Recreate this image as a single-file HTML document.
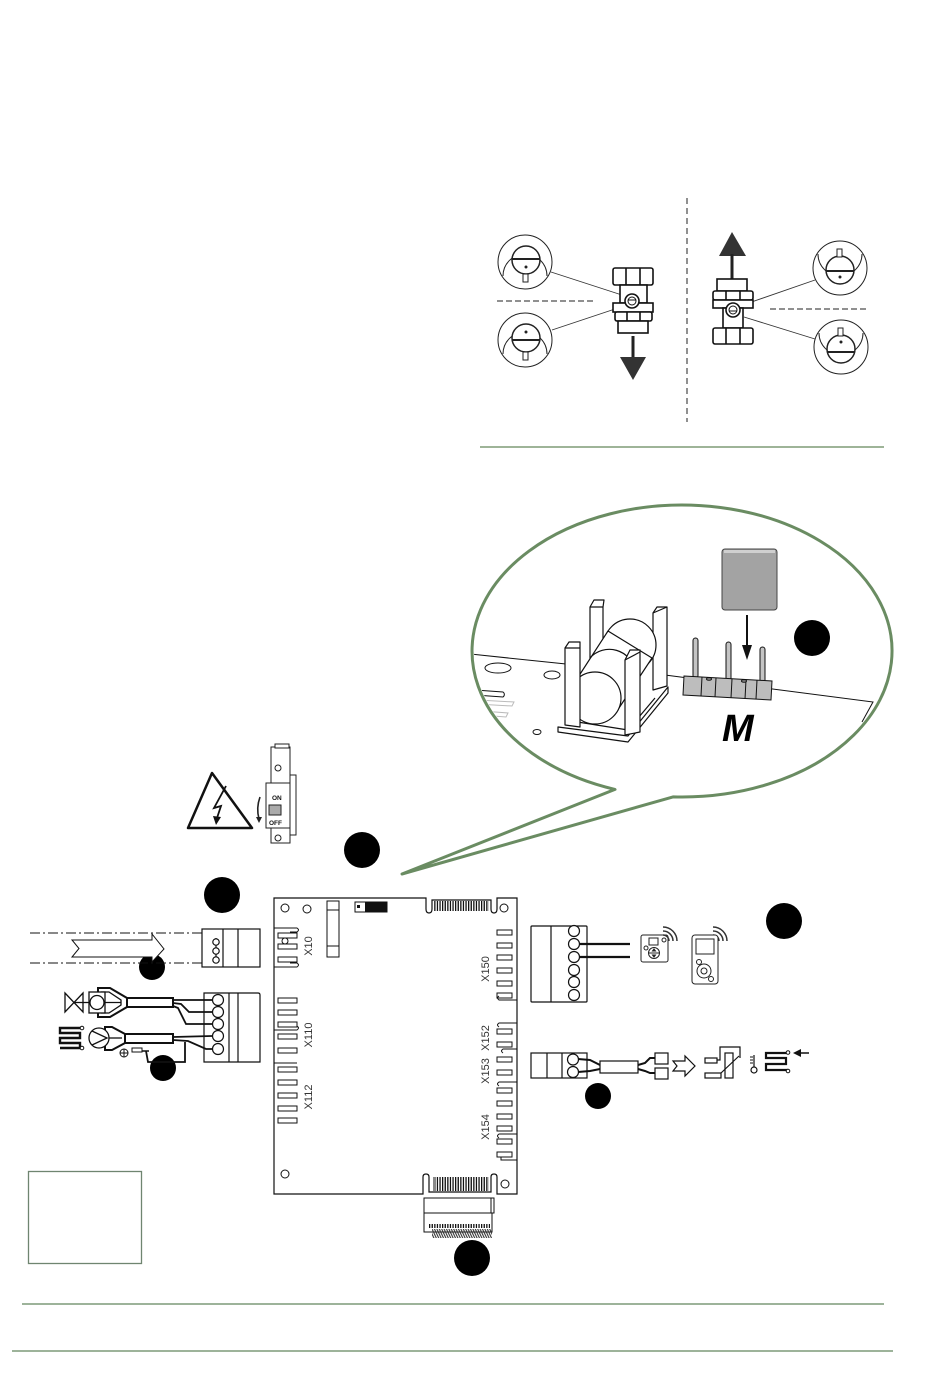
<!DOCTYPE html>
<html><head><meta charset="utf-8">
<style>
html,body{margin:0;padding:0;background:#fff;}
svg{display:block;}
text{font-family:"Liberation Sans",sans-serif;}
</style></head>
<body>
<svg width="950" height="1379" viewBox="0 0 950 1379" xmlns="http://www.w3.org/2000/svg">
<defs>
  <pattern id="hatch" width="2.6" height="20" patternUnits="userSpaceOnUse"><rect width="1.3" height="20" fill="#111"/></pattern>
  <pattern id="hatch2" width="2.4" height="20" patternUnits="userSpaceOnUse" patternTransform="skewX(25)"><rect width="1.2" height="20" fill="#333"/></pattern>
  <clipPath id="bub"><ellipse cx="682" cy="651" rx="208" ry="144"/></clipPath>
</defs>

<!-- ============ VALVE SECTION ============ -->
<line x1="687" y1="198" x2="687" y2="422" stroke="#222" stroke-width="1" stroke-dasharray="6 4"/>
<line x1="480" y1="447" x2="884" y2="447" stroke="#7f9c77" stroke-width="1.5"/>
<line x1="497" y1="301" x2="596" y2="301" stroke="#222" stroke-width="1" stroke-dasharray="6 3"/>
<line x1="770" y1="309" x2="868" y2="309" stroke="#222" stroke-width="1" stroke-dasharray="6 3"/>

<g fill="#fff" stroke="#222" stroke-width="1">
  <circle cx="525" cy="262" r="27"/>
  <path d="M503,276 A22,22 0 1 1 547,276" fill="none"/>
  <circle cx="526" cy="260" r="14" stroke-width="1.5"/>
  <line x1="512" y1="259" x2="540" y2="259" stroke-width="2"/>
  <rect x="523" y="274" width="5" height="8"/>
  <circle cx="526" cy="267" r="1" fill="#222"/>
  <circle cx="525" cy="340" r="27"/>
  <path d="M503,354 A22,22 0 1 1 547,354" fill="none"/>
  <circle cx="526" cy="338" r="14" stroke-width="1.5"/>
  <line x1="512" y1="340" x2="540" y2="340" stroke-width="2"/>
  <rect x="523" y="352" width="5" height="8"/>
  <circle cx="526" cy="332" r="1" fill="#222"/>
  <circle cx="840" cy="268" r="27"/>
  <path d="M818,254 A22,22 0 1 0 862,254" fill="none"/>
  <circle cx="840" cy="270" r="14" stroke-width="1.5"/>
  <line x1="826" y1="271" x2="854" y2="271" stroke-width="2"/>
  <rect x="837" y="249" width="5" height="8"/>
  <circle cx="840" cy="277" r="1" fill="#222"/>
  <circle cx="841" cy="347" r="27"/>
  <path d="M819,333 A22,22 0 1 0 863,333" fill="none"/>
  <circle cx="841" cy="349" r="14" stroke-width="1.5"/>
  <line x1="827" y1="352" x2="855" y2="352" stroke-width="2"/>
  <rect x="838" y="328" width="5" height="8"/>
  <circle cx="841" cy="342" r="1" fill="#222"/>
</g>
<g stroke="#333" stroke-width="0.9">
  <line x1="551" y1="272" x2="625" y2="296"/>
  <line x1="552" y1="330" x2="627" y2="305"/>
  <line x1="815" y1="280" x2="740" y2="306"/>
  <line x1="815" y1="339" x2="744" y2="317"/>
</g>

<g fill="#fff" stroke="#111" stroke-width="1.6">
  <rect x="613" y="268" width="40" height="17" rx="2"/>
  <line x1="626" y1="268" x2="626" y2="285"/><line x1="640" y1="268" x2="640" y2="285"/>
  <rect x="620" y="285" width="27" height="18"/>
  <rect x="613" y="303" width="40" height="9"/>
  <rect x="615" y="312" width="37" height="9" rx="2"/>
  <line x1="627" y1="312" x2="627" y2="321"/><line x1="640" y1="312" x2="640" y2="321"/>
  <rect x="618" y="321" width="30" height="12"/>
  <circle cx="632" cy="301" r="7"/>
  <circle cx="632" cy="301" r="4" stroke-width="1"/>
  <line x1="628" y1="300" x2="636" y2="300" stroke-width="1"/>
</g>
<line x1="633" y1="336" x2="633" y2="359" stroke="#222" stroke-width="3"/>
<polygon points="620,357 646,357 633,380" fill="#333"/>

<polygon points="719,256 746,256 732,232" fill="#333"/>
<line x1="732" y1="254" x2="732" y2="279" stroke="#222" stroke-width="3"/>
<g fill="#fff" stroke="#111" stroke-width="1.6">
  <rect x="717" y="279" width="30" height="12"/>
  <rect x="713" y="291" width="40" height="9" rx="2"/>
  <line x1="726" y1="291" x2="726" y2="300"/><line x1="740" y1="291" x2="740" y2="300"/>
  <rect x="713" y="300" width="40" height="8"/>
  <rect x="723" y="308" width="20" height="20"/>
  <rect x="713" y="328" width="40" height="16" rx="2"/>
  <line x1="726" y1="328" x2="726" y2="344"/><line x1="740" y1="328" x2="740" y2="344"/>
  <circle cx="733" cy="310" r="7"/>
  <circle cx="733" cy="310" r="4" stroke-width="1"/>
  <line x1="729" y1="311" x2="737" y2="311" stroke-width="1"/>
</g>

<!-- ============ BUBBLE ============ -->
<g clip-path="url(#bub)">
  <g stroke="#111" stroke-width="1" fill="none">
    <path d="M470,654 L566,664"/>
    <path d="M665,675 L873,702 L862,722"/>
    <ellipse cx="498" cy="668" rx="13" ry="5"/>
    <ellipse cx="552" cy="675" rx="8" ry="4"/>
    <path d="M475,690 L503,692 A3,3 0 0 1 503,697 L475,695"/>
    <ellipse cx="537" cy="732" rx="4" ry="2.5"/>
  </g>
  <g stroke="#bbb" stroke-width="1" fill="none">
    <path d="M478,700 L514,702 L512,706 L476,704"/>
    <path d="M482,711 L508,713 L506,717 L480,715"/>
  </g>
  <g fill="#fff" stroke="#111" stroke-width="1.2" stroke-linejoin="round">
    <path d="M590,607 L594,600 L604,600 L603,607 L603,665 L590,665 Z"/>
    <line x1="590" y1="607" x2="603" y2="607"/>
    <path d="M653,613 L657,607 L667,607 L667,686 L653,690 Z"/>
    <line x1="653" y1="613" x2="667" y2="607"/>
    <path d="M558,727 L558,732 L628,742 L668,693 L668,687 L628,736 Z"/>
    <path d="M565,720 L628,730 L655,698"/>
    <circle cx="630" cy="645" r="26"/>
    <polygon points="617,711 652,658 608,631 573,685"/>
    <path d="M590,658 A26,26 0 0 1 635,671" fill="none"/>
    <circle cx="595" cy="698" r="26"/>
    <path d="M565,648 L569,642 L580,642 L580,727 L565,725 Z"/>
    <line x1="565" y1="648" x2="580" y2="648"/>
    <path d="M625,660 L630,650 L640,650 L640,732 L625,735 Z"/>
    <line x1="625" y1="660" x2="640" y2="652"/>
  </g>
  <g stroke="#111" stroke-width="1">
    <rect x="693" y="638" width="5" height="40" rx="2.5" fill="#c4c4c4"/>
    <rect x="726" y="642" width="5" height="40" rx="2.5" fill="#c4c4c4"/>
    <rect x="760" y="647" width="5" height="40" rx="2.5" fill="#c4c4c4"/>
    <path d="M684,676 L772,681 L771,700 L683,695 Z" fill="#bdbdbd"/>
    <line x1="702" y1="677" x2="701" y2="696"/>
    <line x1="716" y1="678" x2="715" y2="697"/>
    <line x1="732" y1="679" x2="731" y2="698"/>
    <line x1="746" y1="680" x2="745" y2="699"/>
    <line x1="757" y1="680" x2="756" y2="699"/>
    <ellipse cx="709" cy="679" rx="2.5" ry="1.2" fill="#999"/>
    <ellipse cx="744" cy="681" rx="2.5" ry="1.2" fill="#999"/>
  </g>
  <rect x="722" y="549" width="55" height="61" rx="3" fill="#a3a3a3" stroke="#444" stroke-width="1"/>
  <rect x="724" y="550" width="51" height="3" fill="#cfcfcf"/>
  <line x1="747" y1="615" x2="747" y2="648" stroke="#111" stroke-width="2"/>
  <polygon points="742,645 752,645 747,660" fill="#111"/>
  <circle cx="812" cy="638" r="18" fill="#000"/>
  <text x="722" y="741" font-size="38" font-weight="bold" font-style="italic" fill="#000">M</text>
</g>
<path d="M615,789.4 A210,146 0 1 1 673,796.9 L402,874 Z" fill="none" stroke="#6a8c62" stroke-width="3" stroke-linejoin="round"/>

<!-- ============ WARNING + BREAKER ============ -->
<path d="M212,773 L252,828 L188,828 Z" fill="#fff" stroke="#111" stroke-width="2.5" stroke-linejoin="round"/>
<path d="M226,786 L214,808 L221,806 L217,818" fill="none" stroke="#111" stroke-width="1.8"/>
<polygon points="213,816 221,817 216,825" fill="#111"/>
<g fill="#fff" stroke="#222" stroke-width="1">
  <rect x="289" y="775" width="7" height="60"/>
  <rect x="271" y="747" width="19" height="36"/>
  <rect x="275" y="744" width="14" height="4"/>
  <circle cx="278" cy="768" r="3"/>
  <rect x="266" y="783" width="24" height="45"/>
  <rect x="271" y="828" width="19" height="15"/>
  <circle cx="278" cy="838" r="3"/>
  <rect x="269" y="805" width="12" height="10" fill="#aaa"/>
</g>
<text x="272" y="800" font-size="6.5" font-weight="bold" fill="#111">ON</text>
<text x="269" y="825" font-size="6.5" font-weight="bold" fill="#111">OFF</text>
<path d="M260,797 Q256,808 259,819" fill="none" stroke="#222" stroke-width="1.6"/>
<polygon points="256,817 262,817 259,823" fill="#222"/>

<!-- ============ BLACK MARKERS ============ -->
<g fill="#000">
  <circle cx="362" cy="850" r="18"/>
  <circle cx="222" cy="895" r="18"/>
  <circle cx="784" cy="921" r="18"/>
  <circle cx="152" cy="967" r="13"/>
  <circle cx="163" cy="1068" r="13"/>
  <circle cx="598" cy="1096" r="13"/>
  <circle cx="472" cy="1258" r="18"/>
</g>

<!-- ============ BOARD ============ -->
<g fill="none" stroke="#111" stroke-width="1.2">
  <path d="M426,898 L274,898 L274,1194 L423,1194 L423,1177 Q423,1174 426,1174 Q429,1174 429,1177 L429,1192 L491,1192 L491,1177 Q491,1174 494,1174 Q497,1174 497,1177 L497,1194 L517,1194 L517,898 L497,898 L497,909 Q497,913 494,913 Q491,913 491,909 L491,900 L432,900 L432,909 Q432,913 429,913 Q426,913 426,909 Z"/>
</g>
<rect x="434" y="901" width="55" height="10" fill="url(#hatch)"/>
<rect x="433" y="1177" width="56" height="14" fill="url(#hatch)"/>
<rect x="433" y="1177" width="2" height="14" fill="#888"/>
<g fill="#fff" stroke="#111" stroke-width="1">
  <circle cx="285" cy="908" r="4"/><circle cx="307" cy="909" r="4"/><circle cx="504" cy="908" r="4"/>
  <circle cx="285" cy="1174" r="4"/><circle cx="505" cy="1184" r="4"/>
  <rect x="327" y="901" width="12" height="56"/>
  <line x1="327" y1="910" x2="339" y2="910"/>
  <line x1="327" y1="946" x2="339" y2="946"/>
  <rect x="355" y="902" width="32" height="10"/>
</g>
<rect x="365" y="902" width="22" height="10" fill="#111"/>
<rect x="357" y="905" width="3" height="3" fill="#111"/>
<g fill="#fff" stroke="#111" stroke-width="1">
  <rect x="278" y="933" width="19" height="5"/>
  <rect x="278" y="944" width="19" height="5"/>
  <rect x="278" y="957" width="19" height="5"/>
  <circle cx="285" cy="941" r="3"/>
  <rect x="278" y="998" width="19" height="5"/>
  <rect x="278" y="1010" width="19" height="5"/>
  <rect x="278" y="1022" width="19" height="5"/>
  <rect x="278" y="1034" width="19" height="5"/>
  <rect x="278" y="1048" width="19" height="5"/>
  <rect x="278" y="1067" width="19" height="5"/>
  <rect x="278" y="1080" width="19" height="5"/>
  <rect x="278" y="1093" width="19" height="5"/>
  <rect x="278" y="1106" width="19" height="5"/>
  <rect x="278" y="1118" width="19" height="5"/>
  <rect x="497" y="930" width="15" height="5"/>
  <rect x="497" y="943" width="15" height="5"/>
  <rect x="497" y="955" width="15" height="5"/>
  <rect x="497" y="968" width="15" height="5"/>
  <rect x="497" y="981" width="15" height="5"/>
  <rect x="497" y="993" width="15" height="5"/>
  <rect x="497" y="1029" width="15" height="5"/>
  <rect x="497" y="1042" width="15" height="5"/>
  <rect x="497" y="1057" width="15" height="5"/>
  <rect x="497" y="1070" width="15" height="5"/>
  <rect x="497" y="1088" width="15" height="5"/>
  <rect x="497" y="1101" width="15" height="5"/>
  <rect x="497" y="1114" width="15" height="5"/>
  <rect x="497" y="1126" width="15" height="5"/>
  <rect x="497" y="1139" width="15" height="5"/>
  <rect x="497" y="1152" width="15" height="5"/>
</g>
<g fill="none" stroke="#111" stroke-width="1">
  <path d="M274,928 L297,928 Q300,930 297,932 L290,932"/>
  <path d="M274,967 L297,967 Q300,965 297,963 L290,963"/>
  <path d="M274,1030 L297,1030 Q300,1028 297,1026"/>
  <path d="M274,1063 L297,1063"/>
  <path d="M517,1000 L499,1000 Q496,998 499,996"/>
  <path d="M517,1023 L499,1023 Q496,1025 499,1027"/>
  <path d="M517,1049 L503,1049 Q500,1051 503,1053"/>
  <path d="M517,1082 L499,1082 Q496,1084 499,1086"/>
  <path d="M517,1134 L499,1134 Q496,1136 499,1138"/>
  <path d="M517,1160 L501,1160 L501,1157"/>
</g>
<g font-size="11" fill="#333" text-anchor="middle">
  <text transform="translate(312,946) rotate(-90)">X10</text>
  <text transform="translate(312,1035) rotate(-90)">X110</text>
  <text transform="translate(312,1097) rotate(-90)">X112</text>
  <text transform="translate(489,969) rotate(-90)">X150</text>
  <text transform="translate(489,1038) rotate(-90)">X152</text>
  <text transform="translate(489,1071) rotate(-90)">X153</text>
  <text transform="translate(489,1127) rotate(-90)">X154</text>
</g>
<g fill="#fff" stroke="#111" stroke-width="1">
  <rect x="424" y="1198" width="70" height="15"/>
  <line x1="491" y1="1198" x2="491" y2="1213"/>
  <rect x="424" y="1213" width="68" height="19"/>
</g>
<rect x="428" y="1224" width="62" height="4" fill="url(#hatch)"/>
<rect x="432" y="1229" width="60" height="9" fill="url(#hatch2)"/>

<!-- ============ LEFT CONNECTORS ============ -->
<g stroke="#111" stroke-width="1" stroke-dasharray="10 3 2 3">
  <line x1="30" y1="933" x2="202" y2="933"/>
  <line x1="30" y1="963" x2="202" y2="963"/>
</g>
<path d="M72,940 L152,940 L152,934 L164,949 L152,962 L152,957 L72,957 L79,948.5 Z" fill="#fff" stroke="#111" stroke-width="1"/>
<g fill="#fff" stroke="#111" stroke-width="1.2">
  <rect x="202" y="929" width="58" height="38"/>
  <line x1="223" y1="929" x2="223" y2="967"/>
  <line x1="238" y1="929" x2="238" y2="967"/>
  <line x1="216" y1="938" x2="216" y2="963"/>
  <circle cx="216" cy="942" r="3.2"/>
  <circle cx="216" cy="951" r="3.2"/>
  <circle cx="216" cy="960" r="3.2"/>
</g>
<g fill="#fff" stroke="#111" stroke-width="1.2">
  <path d="M204,993 L258,993 Q260,993 260,995 L260,1062 L204,1062 Z"/>
  <line x1="229" y1="993" x2="229" y2="1062"/>
  <line x1="238" y1="993" x2="238" y2="1062"/>
  <circle cx="218" cy="1000" r="5.5"/>
  <circle cx="218" cy="1012" r="5.5"/>
  <circle cx="218" cy="1024" r="5.5"/>
  <circle cx="218" cy="1036" r="5.5"/>
  <circle cx="218" cy="1049" r="5.5"/>
</g>
<g fill="#fff" stroke="#111" stroke-width="1.3">
  <polygon points="65,993 74,1002.5 65,1012"/>
  <polygon points="83,993 74,1002.5 83,1012"/>
  <line x1="74" y1="1002.5" x2="89" y2="1002.5"/>
  <path d="M98,988 L110,988 L127,998 L127,1007 L110,1017 L98,1017 Z" stroke-width="2"/>
  <path d="M101,992 L109,992 L121,1000 L121,1005 L109,1013 L101,1013" fill="none"/>
  <rect x="89" y="992" width="16" height="21"/>
  <circle cx="97" cy="1002.5" r="7"/>
  <line x1="104" y1="1002.5" x2="121" y2="1002.5"/>
  <rect x="127" y="998" width="46" height="9" stroke-width="2"/>
</g>
<g fill="#fff" stroke="#111" stroke-width="1.3">
  <path d="M105,1027 L112,1027 L125,1034 L125,1043 L112,1050 L105,1050 Z" stroke-width="2"/>
  <circle cx="99" cy="1038" r="10"/>
  <polyline points="92,1031 107,1038 92,1045" fill="none"/>
  <line x1="109" y1="1038" x2="122" y2="1038"/>
  <rect x="125" y="1034" width="48" height="9" stroke-width="2"/>
</g>
<path d="M82,1028 L60,1028 L60,1033 L80,1033 L80,1038 L60,1038 L60,1043 L80,1043 L80,1048 L60,1048" fill="none" stroke="#111" stroke-width="2.4"/>
<circle cx="82" cy="1028" r="1.8" fill="#fff" stroke="#111" stroke-width="1"/>
<circle cx="82" cy="1048" r="1.8" fill="#fff" stroke="#111" stroke-width="1"/>
<circle cx="124" cy="1053" r="4" fill="#fff" stroke="#111" stroke-width="1"/>
<line x1="120" y1="1053" x2="128" y2="1053" stroke="#111" stroke-width="1"/>
<line x1="124" y1="1049" x2="124" y2="1057" stroke="#111" stroke-width="1"/>
<rect x="132" y="1048" width="10" height="4" fill="#fff" stroke="#111" stroke-width="1"/>
<line x1="142" y1="1051" x2="149" y2="1051" stroke="#111" stroke-width="1.5"/>
<g fill="none" stroke="#111" stroke-width="1.8">
  <polyline points="173,1000 212,1000"/>
  <polyline points="173,1003 181,1004 189,1012 212,1012"/>
  <polyline points="173,1006 178,1008 186,1024 212,1024"/>
  <polyline points="173,1037 212,1036"/>
  <polyline points="173,1040 188,1041 206,1049 212,1049"/>
  <polyline points="146,1051 148,1062 185,1062 185,1042"/>
</g>

<!-- ============ RIGHT CONNECTORS ============ -->
<g fill="#fff" stroke="#111" stroke-width="1.2">
  <rect x="531" y="926" width="56" height="76" rx="1"/>
  <line x1="551" y1="926" x2="551" y2="1002"/>
  <circle cx="574" cy="931" r="5.5"/>
  <circle cx="574" cy="944" r="5.5"/>
  <circle cx="574" cy="957" r="5.5"/>
  <circle cx="574" cy="970" r="5.5"/>
  <circle cx="574" cy="982" r="5.5"/>
  <circle cx="574" cy="995" r="5.5"/>
</g>
<g stroke="#111" stroke-width="2.2">
  <line x1="579" y1="944" x2="630" y2="944"/>
  <line x1="579" y1="957" x2="630" y2="957"/>
</g>
<g fill="#fff" stroke="#222" stroke-width="1">
  <rect x="641" y="935" width="27" height="27" rx="2"/>
  <rect x="649" y="938" width="9" height="7"/>
  <circle cx="646" cy="948" r="2"/>
  <circle cx="664" cy="940" r="2"/>
  <circle cx="654" cy="953" r="5.5"/>
  <line x1="649" y1="953" x2="659" y2="953"/>
  <polygon points="652.5,951 655.5,951 654,949" fill="#222"/>
  <polygon points="652.5,955 655.5,955 654,957" fill="#222"/>
</g>
<g fill="none" stroke="#333" stroke-width="1.5">
  <path d="M663,935 A6,6 0 0 1 669,941"/>
  <path d="M663,931 A10,10 0 0 1 673,941"/>
  <path d="M663,927 A14,14 0 0 1 677,941"/>
  <path d="M713,935 A6,6 0 0 1 719,941"/>
  <path d="M713,931 A10,10 0 0 1 723,941"/>
  <path d="M713,927 A14,14 0 0 1 727,941"/>
</g>
<g fill="#fff" stroke="#222" stroke-width="1">
  <rect x="692" y="935" width="26" height="49" rx="3"/>
  <rect x="696" y="939" width="18" height="15"/>
  <circle cx="704" cy="971" r="7"/>
  <circle cx="704" cy="971" r="3"/>
  <circle cx="699" cy="962" r="2.5"/>
  <circle cx="711" cy="979" r="2.5"/>
</g>
<g fill="#fff" stroke="#111" stroke-width="1.2">
  <rect x="531" y="1053" width="56" height="25"/>
  <line x1="547" y1="1053" x2="547" y2="1078"/>
  <line x1="562" y1="1053" x2="562" y2="1078"/>
  <circle cx="573" cy="1059.5" r="5.5"/>
  <circle cx="573" cy="1072" r="5.5"/>
</g>
<g fill="none" stroke="#111" stroke-width="2">
  <polyline points="578,1059 590,1060 600,1065"/>
  <polyline points="578,1072 590,1071 600,1069"/>
  <polyline points="638,1065 645,1063 650,1058 655,1058"/>
  <polyline points="638,1069 645,1071 650,1073 655,1073"/>
</g>
<g fill="#fff" stroke="#111" stroke-width="1.2">
  <rect x="600" y="1061" width="38" height="12"/>
  <rect x="655" y="1053" width="13" height="11"/>
  <rect x="655" y="1068" width="13" height="11"/>
  <path d="M673,1061 L685,1061 L685,1056 L695,1066 L685,1076 L685,1071 L673,1071 L677,1066 Z"/>
  <rect x="705" y="1058" width="12" height="5"/>
  <rect x="705" y="1073" width="16" height="5"/>
  <rect x="725" y="1053" width="8" height="25"/>
  <polyline points="717,1060 720,1060 720,1047 740,1047 740,1058" fill="none"/>
  <line x1="721" y1="1073" x2="739" y2="1056"/>
  <line x1="754" y1="1055" x2="754" y2="1067"/>
  <circle cx="754" cy="1070" r="3"/>
</g>
<g stroke="#111" stroke-width="1">
  <line x1="750" y1="1057" x2="753" y2="1057"/>
  <line x1="750" y1="1060" x2="753" y2="1060"/>
  <line x1="750" y1="1063" x2="753" y2="1063"/>
</g>
<path d="M788,1053 L766,1053 L766,1058 L786,1058 L786,1064 L766,1064 L766,1070 L788,1070" fill="none" stroke="#111" stroke-width="2.2"/>
<circle cx="788" cy="1052.5" r="1.8" fill="#fff" stroke="#111" stroke-width="1"/>
<circle cx="788" cy="1071" r="1.8" fill="#fff" stroke="#111" stroke-width="1"/>
<line x1="800" y1="1053" x2="809" y2="1053" stroke="#111" stroke-width="1.5"/>
<polygon points="793,1053 801,1049 801,1057" fill="#111"/>

<!-- ============ BOTTOM ============ -->
<rect x="28.5" y="1171.5" width="113" height="92" fill="none" stroke="#6f8570" stroke-width="1.3"/>
<line x1="22" y1="1304" x2="884" y2="1304" stroke="#7d9a78" stroke-width="1.5"/>
<line x1="12" y1="1351" x2="893" y2="1351" stroke="#7d9a78" stroke-width="1.5"/>
</svg>
</body></html>
